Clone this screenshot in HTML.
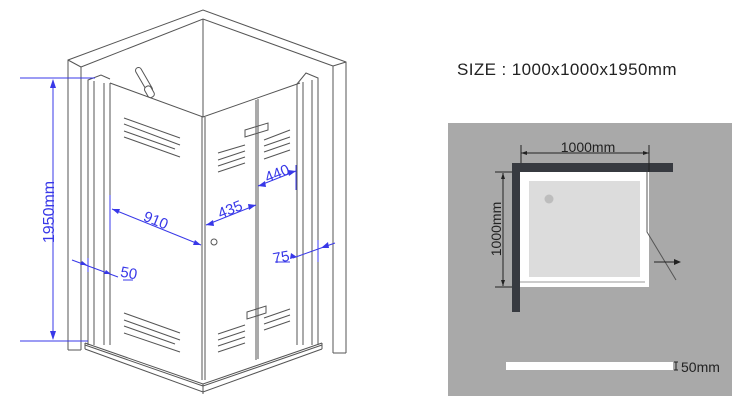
<!DOCTYPE html>
<html><head><meta charset="utf-8"><style>
html,body{margin:0;padding:0;background:#fff;width:750px;height:408px;overflow:hidden}
svg{display:block}
</style></head><body>
<svg width="750" height="408" viewBox="0 0 750 408" xmlns="http://www.w3.org/2000/svg" font-family="Liberation Sans, sans-serif">
<g fill="none" stroke="#555" stroke-width="1">
<polyline points="68,350 68,60 203,10 346,62 346,353"/>
<polyline points="81,350 81,67 203,19 333,66 333,353"/>
<line x1="68" y1="60" x2="81" y2="67"/>
<line x1="346" y1="62" x2="333" y2="66"/>
<line x1="68" y1="350" x2="81" y2="350"/>
<line x1="333" y1="353" x2="346" y2="353"/>
<line x1="203" y1="19" x2="203" y2="117"/>
<polyline points="110,83 203,117 300,83"/>
<line x1="202" y1="117" x2="202" y2="380"/>
<line x1="205" y1="117" x2="205" y2="380"/>
<polyline points="85,343 203,384 322,343"/>
<polyline points="85,349 203,392 322,349"/>
<polyline points="203,386 322,345"/>
<polyline points="85,345 203,386"/>
<line x1="203" y1="384" x2="203" y2="394"/>
<line x1="85" y1="343" x2="85" y2="349"/>
<line x1="322" y1="343" x2="322" y2="349"/>
<polyline points="88,345 88,80 101,75 110,79"/>
<line x1="94" y1="81" x2="94" y2="345"/>
<line x1="104" y1="83" x2="104" y2="345"/>
<line x1="110" y1="83" x2="110" y2="345"/>
<polyline points="297,84 306,73 318,78 318,345"/>
<line x1="297" y1="84" x2="297" y2="345"/>
<line x1="303" y1="82" x2="303" y2="345"/>
<line x1="312" y1="80" x2="312" y2="345"/>
<line x1="256" y1="100" x2="256" y2="360"/>
<line x1="258" y1="99" x2="258" y2="359"/>
<polygon points="245,130 268,123 268,130 245,137"/>
<polygon points="247,312 266,306 266,313 247,319"/>
<line x1="124" y1="118" x2="180" y2="138"/>
<line x1="124" y1="124" x2="180" y2="145"/>
<line x1="124" y1="131" x2="175" y2="149"/>
<line x1="124" y1="137" x2="180" y2="157"/>
<line x1="124" y1="313" x2="180" y2="333"/>
<line x1="124" y1="320" x2="180" y2="340"/>
<line x1="124" y1="326" x2="175" y2="344"/>
<line x1="124" y1="333" x2="180" y2="352"/>
<line x1="218" y1="153" x2="245" y2="145"/>
<line x1="218" y1="160" x2="245" y2="151"/>
<line x1="218" y1="166" x2="245" y2="157"/>
<line x1="218" y1="172" x2="245" y2="163"/>
<line x1="264" y1="140" x2="290" y2="130"/>
<line x1="264" y1="146" x2="290" y2="137"/>
<line x1="264" y1="152" x2="290" y2="143"/>
<line x1="264" y1="159" x2="290" y2="150"/>
<line x1="218" y1="334" x2="245" y2="325"/>
<line x1="218" y1="340" x2="245" y2="331"/>
<line x1="218" y1="346" x2="245" y2="337"/>
<line x1="218" y1="352" x2="245" y2="343"/>
<line x1="264" y1="318" x2="290" y2="309"/>
<line x1="264" y1="324" x2="290" y2="315"/>
<line x1="264" y1="330" x2="290" y2="321"/>
<circle cx="214" cy="242" r="3"/>
</g>
<g stroke="#555" fill="#fff">
<rect x="141" y="66" width="6" height="28" rx="3" transform="rotate(-30 144 80)"/>
<rect x="146" y="86" width="7" height="12" rx="3" transform="rotate(-30 149 92)"/>
</g>
<g stroke="#3838e8" stroke-width="1" fill="none">
<line x1="20" y1="78" x2="95" y2="78"/>
<line x1="20" y1="341" x2="88" y2="341"/>
<line x1="53" y1="80" x2="53" y2="339"/>
<line x1="112" y1="209" x2="201" y2="245"/>
<line x1="110" y1="195" x2="110" y2="230"/>
<line x1="206" y1="225" x2="256" y2="205"/>
<line x1="258" y1="186" x2="296" y2="171"/>
<line x1="296" y1="165" x2="296" y2="190"/>
<line x1="293" y1="258" x2="335" y2="243"/>
<line x1="318" y1="240" x2="318" y2="262"/>
<line x1="72" y1="260" x2="118" y2="277"/>
<line x1="88" y1="258" x2="88" y2="272"/>
<line x1="123" y1="280" x2="133" y2="280"/>
<line x1="275" y1="262" x2="290" y2="262"/>
</g>
<g fill="#3838e8">
<polygon points="53,79 50,88 56,88"/><polygon points="53,340 50,331 56,331"/>
<polygon points="112,209 120,209 118,214"/><polygon points="201,245 193,245 195,240"/>
<polygon points="206,225 213,220 214,226"/><polygon points="256,205 249,210 248,204"/>
<polygon points="258,186 265,181 266,187"/><polygon points="296,171 289,176 288,170"/>
<polygon points="297,257 290,259 291,253"/><polygon points="321,248 328,242 329,248"/>
<polygon points="87,265 80,265 82,261"/><polygon points="111,274 104,274 106,270"/>
<text x="0" y="0" font-size="16" transform="translate(54,212) rotate(-90)" text-anchor="middle">1950mm</text>
<text x="0" y="0" font-size="15" transform="translate(154,225) rotate(22)" text-anchor="middle">910</text>
<text x="0" y="0" font-size="15" transform="translate(232,214) rotate(-22)" text-anchor="middle">435</text>
<text x="0" y="0" font-size="15" transform="translate(279,178) rotate(-22)" text-anchor="middle">440</text>
<text x="0" y="0" font-size="15" transform="translate(282,262) rotate(-10)" text-anchor="middle">75</text>
<text x="0" y="0" font-size="15" transform="translate(128,278) rotate(10)" text-anchor="middle">50</text>
</g>
<text x="457" y="75" font-size="17" fill="#222" letter-spacing="0.4">SIZE : 1000x1000x1950mm</text>
<rect x="448" y="123" width="284" height="273" fill="#a9a9a9"/>
<rect x="520" y="172" width="129" height="115" fill="#fff"/>
<rect x="529" y="181" width="111" height="96" fill="#dcdcdc"/>
<circle cx="549" cy="199" r="4.5" fill="#bdbdbd"/>
<polyline points="647,172 647,232 676,280" fill="none" stroke="#555"/>
<line x1="520" y1="282" x2="645" y2="282" stroke="#999"/>
<rect x="512" y="163" width="161" height="9" fill="#373a40"/>
<rect x="512" y="163" width="8" height="149" fill="#373a40"/>
<g stroke="#222" fill="none">
<line x1="521" y1="153" x2="649" y2="153"/>
<line x1="521" y1="145" x2="521" y2="163"/>
<line x1="649" y1="145" x2="649" y2="172"/>
<line x1="503" y1="173" x2="503" y2="286"/>
<line x1="495" y1="172" x2="512" y2="172"/>
<line x1="495" y1="287" x2="512" y2="287"/>
<line x1="654" y1="262" x2="678" y2="262"/>
<line x1="676" y1="362" x2="676" y2="370"/>
<line x1="674" y1="362" x2="678" y2="362"/><line x1="674" y1="370" x2="678" y2="370"/>
</g>
<g fill="#222">
<polygon points="521,153 527,151 527,155"/><polygon points="649,153 643,151 643,155"/>
<polygon points="503,173 501,179 505,179"/><polygon points="503,286 501,280 505,280"/>
<polygon points="681,262 674,259 674,265"/>
<text x="588" y="152" font-size="14" text-anchor="middle">1000mm</text>
<text font-size="14" text-anchor="middle" transform="translate(501,229) rotate(-90)">1000mm</text>
<text x="681" y="372" font-size="14">50mm</text>
</g>
<rect x="506" y="362" width="167" height="8" fill="#fff"/>
</svg>
</body></html>
